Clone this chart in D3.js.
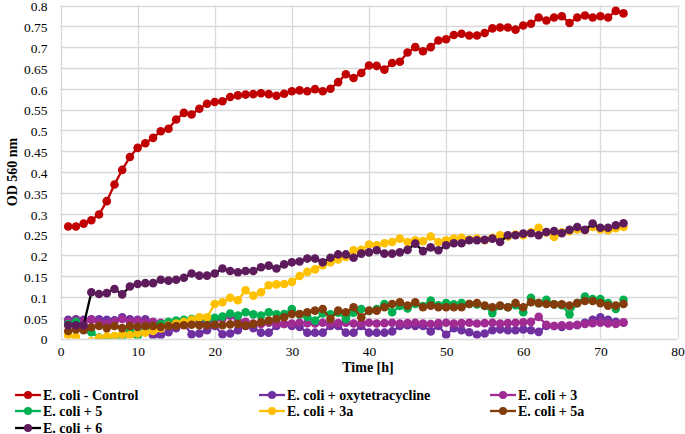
<!DOCTYPE html>
<html><head><meta charset="utf-8">
<script src="https://cdn.jsdelivr.net/npm/d3@7"></script>
<style>body{margin:0;background:#fff} text{font-family:"Liberation Serif","Times New Roman",serif;fill:#000}</style>
</head><body><svg id="c" width="685" height="434"></svg>
<script>
const hours=[1,2,3,4,5,6,7,8,9,10,11,12,13,14,15,16,17,18,19,20,21,22,23,24,25,26,27,28,29,30,31,32,33,34,35,36,37,38,39,40,41,42,43,44,45,46,47,48,49,50,51,52,53,54,55,56,57,58,59,60,61,62,63,64,65,66,67,68,69,70,71,72,73];
const control=[0.269,0.269,0.276,0.284,0.298,0.330,0.370,0.405,0.436,0.458,0.469,0.482,0.498,0.504,0.526,0.542,0.538,0.552,0.564,0.568,0.570,0.580,0.584,0.586,0.587,0.589,0.587,0.583,0.588,0.594,0.596,0.594,0.599,0.594,0.600,0.616,0.635,0.626,0.638,0.656,0.655,0.646,0.662,0.665,0.687,0.700,0.690,0.700,0.716,0.719,0.729,0.732,0.728,0.728,0.734,0.745,0.747,0.747,0.742,0.752,0.756,0.771,0.764,0.771,0.774,0.758,0.771,0.776,0.771,0.774,0.771,0.787,0.781];
const oxytetracycline=[0.045,0.046,0.045,0.046,0.046,0.045,0.044,0.051,0.046,0.045,0.046,0.007,0.008,0.015,0.025,0.035,0.010,0.012,0.020,0.030,0.010,0.012,0.020,0.030,0.025,0.014,0.014,0.030,0.035,0.030,0.028,0.014,0.014,0.014,0.030,0.030,0.014,0.014,0.030,0.014,0.014,0.014,0.017,0.030,0.032,0.030,0.030,0.017,0.030,0.009,0.025,0.020,0.015,0.009,0.012,0.020,0.022,0.020,0.020,0.022,0.020,0.016,0.030,0.030,0.028,0.030,0.032,0.038,0.045,0.051,0.045,0.040,0.038];
const comp3=[0.040,0.042,0.040,0.045,0.038,0.035,0.040,0.047,0.040,0.042,0.038,0.040,0.038,0.036,0.035,0.037,0.040,0.042,0.040,0.045,0.048,0.055,0.042,0.040,0.036,0.035,0.038,0.036,0.035,0.036,0.038,0.037,0.036,0.038,0.036,0.037,0.038,0.036,0.037,0.038,0.036,0.037,0.038,0.036,0.037,0.038,0.036,0.035,0.037,0.038,0.036,0.037,0.038,0.036,0.037,0.038,0.036,0.037,0.038,0.039,0.040,0.052,0.033,0.030,0.032,0.031,0.033,0.035,0.037,0.038,0.036,0.035,0.039];
const comp5=[0.035,0.040,0.022,0.015,0.002,0.003,0.005,0.004,0.020,0.006,0.025,0.030,0.035,0.040,0.043,0.045,0.047,0.050,0.046,0.050,0.053,0.060,0.055,0.063,0.058,0.055,0.063,0.058,0.059,0.071,0.058,0.052,0.043,0.060,0.058,0.062,0.047,0.062,0.071,0.066,0.071,0.083,0.063,0.078,0.072,0.083,0.078,0.091,0.080,0.085,0.082,0.085,0.083,0.082,0.078,0.061,0.078,0.075,0.080,0.063,0.098,0.085,0.093,0.082,0.080,0.058,0.085,0.101,0.095,0.095,0.085,0.071,0.093];
const comp3a=[0.008,0.004,-0.012,-0.006,0.001,0.005,0.006,0.010,0.008,0.012,0.014,0.018,0.024,0.031,0.036,0.040,0.045,0.051,0.051,0.083,0.087,0.098,0.092,0.116,0.103,0.111,0.128,0.130,0.131,0.136,0.150,0.160,0.166,0.176,0.183,0.190,0.196,0.212,0.213,0.226,0.224,0.229,0.232,0.240,0.232,0.236,0.234,0.245,0.232,0.236,0.240,0.242,0.238,0.240,0.236,0.242,0.248,0.245,0.250,0.248,0.255,0.266,0.255,0.244,0.255,0.258,0.262,0.260,0.268,0.262,0.260,0.265,0.268];
const comp5a=[0.018,0.022,0.020,0.027,0.030,0.025,0.030,0.025,0.030,0.028,0.030,0.030,0.028,0.030,0.030,0.032,0.033,0.032,0.032,0.033,0.032,0.034,0.035,0.031,0.035,0.039,0.043,0.047,0.051,0.059,0.059,0.063,0.067,0.071,0.047,0.067,0.063,0.075,0.051,0.067,0.067,0.075,0.083,0.087,0.079,0.087,0.075,0.079,0.075,0.075,0.075,0.075,0.083,0.085,0.079,0.075,0.079,0.075,0.085,0.075,0.087,0.085,0.083,0.082,0.082,0.079,0.085,0.090,0.090,0.085,0.079,0.079,0.083];
const comp6=[0.032,0.032,0.032,0.111,0.107,0.109,0.119,0.106,0.125,0.131,0.133,0.133,0.141,0.139,0.141,0.146,0.156,0.151,0.151,0.156,0.168,0.162,0.159,0.162,0.162,0.171,0.175,0.168,0.178,0.183,0.185,0.192,0.192,0.183,0.194,0.202,0.202,0.194,0.204,0.207,0.212,0.204,0.204,0.207,0.213,0.228,0.210,0.219,0.212,0.224,0.229,0.229,0.236,0.236,0.237,0.240,0.232,0.248,0.248,0.252,0.253,0.248,0.256,0.258,0.253,0.261,0.268,0.261,0.276,0.266,0.266,0.272,0.277];
const seriesNames=["E. coli - Control","E. coli + oxytetracycline","E. coli + 3","E. coli + 5","E. coli + 3a","E. coli + 5a","E. coli + 6"];
const seriesValues=[control,oxytetracycline,comp3,comp5,comp3a,comp5a,comp6];
const lineColors=["#C00000","#7030A0","#A02B93","#00B050","#FFC000","#843C0C","#000000"];
const markerColors=["#C00000","#7030A0","#A02B93","#00B050","#FFC000","#843C0C","#5E1B5C"];
const yTicks=[0,0.05,0.1,0.15,0.2,0.25,0.3,0.35,0.4,0.45,0.5,0.55,0.6,0.65,0.7,0.75,0.8];
const xTicks=[0,10,20,30,40,50,60,70,80];

const svg=d3.select("#c");
const x=d3.scaleLinear().domain([0,80]).range([60.5,677.5]);
const y=d3.scaleLinear().domain([0,0.8]).range([338.5,5.5]);

// grid
const g=svg.append("g");
g.selectAll(".hg").data(yTicks).join("line")
 .attr("x1",x(0)).attr("x2",x(80)).attr("y1",d=>Math.round(y(d))+0.5).attr("y2",d=>Math.round(y(d))+0.5)
 .attr("stroke","#d9d9d9").attr("stroke-width",1.3);
g.selectAll(".vg").data(xTicks).join("line")
 .attr("y1",y(0)).attr("y2",y(0.8)).attr("x1",d=>Math.round(x(d))+0.5).attr("x2",d=>Math.round(x(d))+0.5)
 .attr("stroke","#d9d9d9").attr("stroke-width",1.3);

// axes labels
const ya=svg.append("g").attr("transform",`translate(${x(0)},0)`)
 .call(d3.axisLeft(y).tickValues(yTicks).tickSize(0).tickPadding(13).tickFormat(d=>String(+d.toFixed(2))));
ya.select(".domain").remove();
ya.selectAll("text").attr("font-size",13.5).attr("dy","0.4em").attr("font-family","Liberation Serif").attr("fill","#000");
const xa=svg.append("g").attr("transform",`translate(0,${y(0)})`)
 .call(d3.axisBottom(x).tickValues(xTicks).tickSize(0).tickPadding(8).tickFormat(d3.format("d")));
xa.select(".domain").remove();
xa.selectAll("text").attr("font-size",13.5).attr("font-family","Liberation Serif").attr("fill","#000");

svg.append("text").attr("x",368).attr("y",372).attr("text-anchor","middle")
 .attr("font-weight","bold").attr("font-size",14).text("Time [h]");
svg.append("text").attr("transform","translate(17,172) rotate(-90)").attr("text-anchor","middle")
 .attr("font-weight","bold").attr("font-size",14).text("OD 560 nm");

// clip
svg.append("clipPath").attr("id","pc").append("rect")
 .attr("x",x(0)).attr("y",y(0.8)).attr("width",x(80)-x(0)).attr("height",y(0)-y(0.8));
const plot=svg.append("g").attr("clip-path","url(#pc)");
const line=d3.line().x((d,i)=>x(hours[i])).y(d=>y(d));
seriesValues.forEach((vals,si)=>{
  const sg=plot.append("g");
  sg.append("path").datum(vals).attr("d",line).attr("fill","none")
    .attr("stroke",lineColors[si]).attr("stroke-width",2.3);
  sg.selectAll("circle").data(vals).join("circle")
    .attr("cx",(d,i)=>x(hours[i])).attr("cy",d=>y(d)).attr("r",4.3)
    .attr("fill",markerColors[si]);
});

// legend
const legPos=[[15,395],[259,395],[490,395],[15,411],[259,411],[490,411],[15,428]];
seriesNames.forEach((n,i)=>{
  const [lx,ly]=legPos[i];
  const lg=svg.append("g");
  lg.append("line").attr("x1",lx).attr("x2",lx+26).attr("y1",ly).attr("y2",ly)
    .attr("stroke",lineColors[i]).attr("stroke-width",2.3);
  lg.append("circle").attr("cx",lx+13).attr("cy",ly).attr("r",4).attr("fill",markerColors[i]);
  lg.append("text").attr("x",lx+28).attr("y",ly+4.5).attr("font-weight","bold").attr("font-size",14).text(n);
});
</script></body></html>
